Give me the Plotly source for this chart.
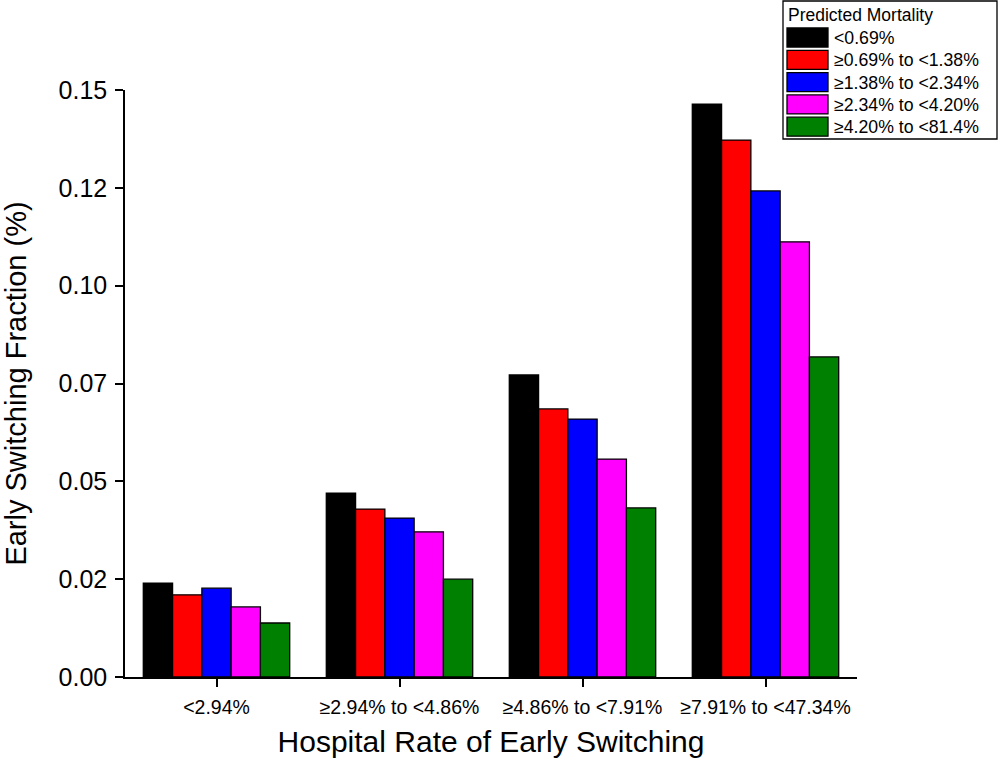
import plotly.graph_objects as go

categories = ["<2.94%", "≥2.94% to <4.86%", "≥4.86% to <7.91%", "≥7.91% to <47.34%"]
series_names = ["<0.69%", "≥0.69% to <1.38%", "≥1.38% to <2.34%", "≥2.34% to <4.20%", "≥4.20% to <81.4%"]
series_colors = ["#000000", "#ff0000", "#0000ff", "#ff00ff", "#008000"]
values = [
    [0.0240, 0.0470, 0.0772, 0.1464],
    [0.0210, 0.0429, 0.0685, 0.1372],
    [0.0227, 0.0406, 0.0659, 0.1242],
    [0.0179, 0.0371, 0.0557, 0.1112],
    [0.0138, 0.0250, 0.0432, 0.0818],
]
y_tickvals = [0, 0.025, 0.05, 0.075, 0.1, 0.125, 0.15]
y_ticktext = ["0.00", "0.02", "0.05", "0.07", "0.10", "0.12", "0.15"]

W, H = 1000, 765
L, T, R, B = 125, 90, 143, 88
PW, PH = W - L - R, H - T - B

def px_x(x):
    return (x - L) / PW

def px_y(y):
    return (H - B - y) / PH

FONT = "Liberation Sans, Arial, sans-serif"

fig = go.Figure()
for name, col, vals in zip(series_names, series_colors, values):
    fig.add_trace(go.Bar(
        x=categories, y=vals, name=name,
        marker=dict(color=col, line=dict(color="#000000", width=1.3)),
        showlegend=False,
    ))

shapes = []
annotations = []
# legend box
shapes.append(dict(type="rect", xref="paper", yref="paper",
                   x0=px_x(783), x1=px_x(997), y0=px_y(139), y1=px_y(1),
                   line=dict(color="#000000", width=1.3), fillcolor="white", layer="above"))
annotations.append(dict(xref="paper", yref="paper", x=px_x(786), y=px_y(15),
                        text="Predicted Mortality", showarrow=False, xanchor="left", yanchor="middle",
                        font=dict(family=FONT, size=17.5, color="#000000")))
for i, (name, col) in enumerate(zip(series_names, series_colors)):
    top = 28 + i * 22.3
    shapes.append(dict(type="rect", xref="paper", yref="paper",
                       x0=px_x(787), x1=px_x(828), y0=px_y(top + 19), y1=px_y(top),
                       line=dict(color="#000000", width=1.3), fillcolor=col, layer="above"))
    annotations.append(dict(xref="paper", yref="paper", x=px_x(832), y=px_y(top + 10),
                            text=name, showarrow=False, xanchor="left", yanchor="middle",
                            font=dict(family=FONT, size=17.7, color="#000000")))

fig.update_layout(
    width=W, height=H,
    margin=dict(l=L, r=R, t=T, b=B, pad=0),
    paper_bgcolor="white", plot_bgcolor="white",
    barmode="group", bargap=0.2, bargroupgap=0,
    font=dict(family=FONT, color="#000000"),
    shapes=shapes, annotations=annotations,
    xaxis=dict(
        type="category", range=[-0.5, 3.5],
        showline=True, linecolor="#000000", linewidth=1.5,
        ticks="outside", ticklen=8, tickwidth=1.5, tickcolor="#000000",
        tickfont=dict(size=19.5), ticklabelstandoff=4, showgrid=False, zeroline=False,
        title=dict(text="Hospital Rate of Early Switching", font=dict(size=30), standoff=14),
    ),
    yaxis=dict(
        range=[0, 0.15], tickvals=y_tickvals, ticktext=y_ticktext,
        showline=True, linecolor="#000000", linewidth=1.5,
        ticks="outside", ticklen=8, tickwidth=1.5, tickcolor="#000000",
        tickfont=dict(size=25), ticklabelstandoff=3, showgrid=False, zeroline=False,
        title=dict(text="Early Switching Fraction (%)", font=dict(size=29), standoff=26),
    ),
)

fig.write_html("out.html", config={"displayModeBar": False},
               post_script="document.body.style.margin='0';")
